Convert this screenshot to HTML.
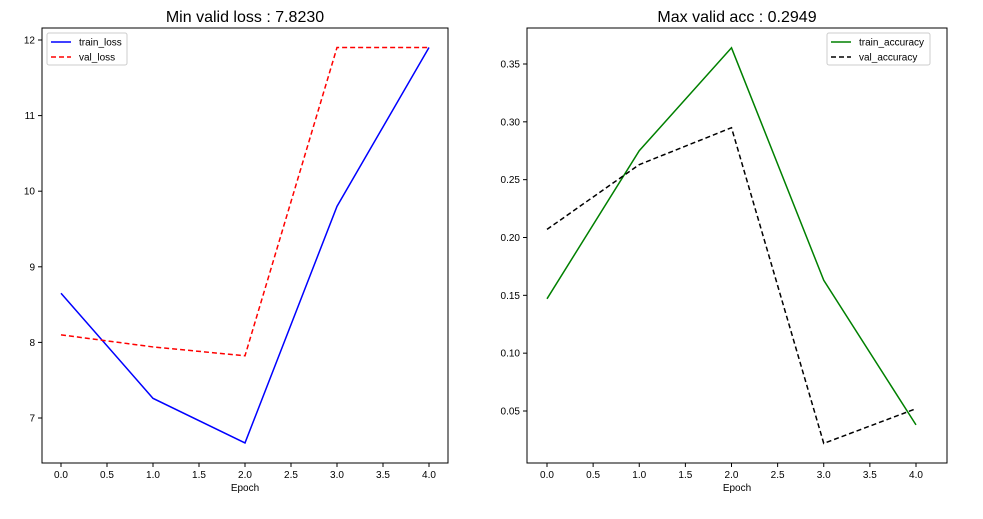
<!DOCTYPE html>
<html><head><meta charset="utf-8"><style>
body{margin:0;background:#fff;}
svg text{font-family:"Liberation Sans","Noto Sans CJK KR",sans-serif;fill:#000;}
</style></head><body>
<svg id="c" width="983" height="514" xmlns="http://www.w3.org/2000/svg"></svg>
<script>
const epochs=[0,1,2,3,4];
const trainLoss=[8.65,7.26,6.67,9.80,11.90];
const valLoss=[8.10,7.94,7.823,11.90,11.90];
const trainAcc=[0.147,0.275,0.364,0.163,0.038];
const valAcc=[0.207,0.263,0.2949,0.022,0.052];
const xTicks=[0,0.5,1,1.5,2,2.5,3,3.5,4];
const lossTicks=[7,8,9,10,11,12];
const accTicks=[0.05,0.10,0.15,0.20,0.25,0.30,0.35];
const svg=document.getElementById('c');
const NS='http://www.w3.org/2000/svg';
function mk(t,a,txt){const e=document.createElementNS(NS,t);for(const k in a)e.setAttribute(k,a[k]);if(txt!==undefined)e.textContent=txt;svg.appendChild(e);return e;}
function panel(o){
  const xs=v=>o.x0+(v-0)*o.xu, ys=v=>o.y0-(v-o.yv0)*o.yu;
  let e=mk('rect',{x:o.L,y:28,width:o.R-o.L,height:435,fill:'none',stroke:'#000','stroke-width':1});
  
  
  e=mk('text',{x:(o.L+o.R)/2,y:22,'text-anchor':'middle','font-size':16},o.title);
  
  
  xTicks.forEach(t=>{const x=xs(t);
    e=mk('line',{x1:x,x2:x,y1:463,y2:467,stroke:'#000'});
    
    
    e=mk('text',{x:x,y:478,'text-anchor':'middle','font-size':10},t.toFixed(1));
    
    });
  o.yt.forEach(t=>{const y=ys(t);
    e=mk('line',{x1:o.L-4,x2:o.L,y1:y,y2:y,stroke:'#000'});
    
    
    e=mk('text',{x:o.L-7,y:y+3.5,'text-anchor':'end','font-size':10},o.fmt(t));
    
    });
  e=mk('text',{x:(o.L+o.R)/2,y:491,'text-anchor':'middle','font-size':10},'Epoch');
  
  
  o.series.forEach(s=>{
    e=mk('polyline',{points:s.d.map((v,i)=>xs(epochs[i])+','+ys(v)).join(' '),fill:'none',stroke:s.c,'stroke-width':1.5,'stroke-dasharray':s.dash||''});
    
    });
  const lx=o.lx,ly=33;
  e=mk('rect',{x:lx,y:ly,width:o.lw,height:32,rx:2,fill:'#fff',stroke:'#ccc'});
  
  
  o.series.forEach((s,i)=>{const y=ly+9+i*15;
    e=mk('line',{x1:lx+4,x2:lx+24,y1:y,y2:y,stroke:s.c,'stroke-width':1.5,'stroke-dasharray':s.dash||''});
    
    
    e=mk('text',{x:lx+32,y:y+3.5,'font-size':10},s.n);
    
    });
}
panel({id:'loss',L:42,R:448,x0:61,xu:92,y0:418,yv0:7,yu:75.6,yt:lossTicks,fmt:t=>String(t),title:'Min valid loss : 7.8230',lx:47,lw:80,
 series:[{n:'train_loss',d:trainLoss,c:'#0000ff'},{n:'val_loss',d:valLoss,c:'#ff0000',dash:'5,3'}]});
panel({id:'acc',L:527,R:947,x0:547,xu:92.25,y0:411,yv0:0.05,yu:1156.7,yt:accTicks,fmt:t=>t.toFixed(2),title:'Max valid acc : 0.2949',lx:827,lw:103,
 series:[{n:'train_accuracy',d:trainAcc,c:'#008000'},{n:'val_accuracy',d:valAcc,c:'#000000',dash:'5,3'}]});
</script>
</body></html>
